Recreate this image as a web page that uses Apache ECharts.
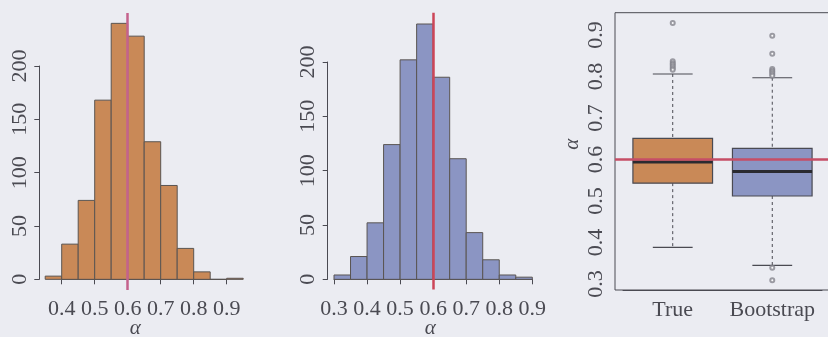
<!DOCTYPE html>
<html>
<head>
<meta charset="utf-8">
<script src="https://cdn.jsdelivr.net/npm/echarts@6/dist/echarts.min.js"></script>
<style>
  html, body { margin: 0; padding: 0; background: #ebecf2; }
  #chart { width: 828px; height: 337px; }
</style>
</head>
<body>
<div id="chart"></div>
<script>
// Histogram of alpha-hat from 1000 simulated data sets (true population)
const trueBinStarts = [0.35, 0.40, 0.45, 0.50, 0.55, 0.60, 0.65, 0.70, 0.75, 0.80, 0.85, 0.90];
const trueCounts    = [3, 33, 74, 168, 240, 228, 129, 88, 29, 7, 0, 1];

// Histogram of alpha-hat from 1000 bootstrap samples
const bootBinStarts = [0.30, 0.35, 0.40, 0.45, 0.50, 0.55, 0.60, 0.65, 0.70, 0.75, 0.80, 0.85];
const bootCounts    = [4, 21, 52, 124, 202, 235, 186, 111, 43, 18, 4, 2];
const binWidth = 0.05;

// Boxplot summaries: [lower whisker, Q1, median, Q3, upper whisker]
const boxCategories = ['True', 'Bootstrap'];
const trueBox = [0.388, 0.543, 0.594, 0.651, 0.806];
const bootBox = [0.345, 0.512, 0.571, 0.627, 0.797];
const trueOutliers = [0.929, 0.837, 0.832, 0.828, 0.824, 0.820, 0.816];
const bootOutliers = [0.898, 0.855, 0.818, 0.814, 0.810, 0.806, 0.802, 0.339, 0.309];

const alphaTrue = 0.6;

const countTicks = { min: 0, max: 200, interval: 50 };
const trueXTicks = { min: 0.4, max: 0.9, interval: 0.1 };
const bootXTicks = { min: 0.3, max: 0.9, interval: 0.1 };
const boxYTicks  = { min: 0.3, max: 0.9, interval: 0.1 };

const orange = '#c98957';
const blue = '#8b95c3';
const ink = '#4a4a52';
const edge = '#5a5552';
const FONT = 'Liberation Serif';

function hist(starts, counts) {
  return starts.map((s, i) => [s, +(s + binWidth).toFixed(2), counts[i]]);
}

function histRender(fill) {
  return function (params, api) {
    const a = api.coord([api.value(0), 0]);
    const b = api.coord([api.value(1), api.value(2)]);
    return {
      type: 'rect',
      shape: { x: a[0], y: b[1], width: b[0] - a[0], height: a[1] - b[1] },
      style: { fill: fill, stroke: edge, lineWidth: 1 }
    };
  };
}

function boxRender(params, api) {
  const x = api.value(0);
  const lw = api.value(1), q1 = api.value(2), md = api.value(3), q3 = api.value(4), uw = api.value(5);
  const fill = params.dataIndex === 0 ? orange : blue;
  const half = 0.4, cap = 0.2;
  const pLw = api.coord([x, lw]), pUw = api.coord([x, uw]);
  const pQ1 = api.coord([x, q1]), pQ3 = api.coord([x, q3]);
  const bl = api.coord([x - half, q1]), tr = api.coord([x + half, q3]);
  const ml = api.coord([x - half, md]), mr = api.coord([x + half, md]);
  const cl = api.coord([x - cap, uw]), cr = api.coord([x + cap, uw]);
  const dl = api.coord([x - cap, lw]), dr = api.coord([x + cap, lw]);
  const dash = { stroke: ink, lineWidth: 1, lineDash: [3, 3] };
  const solid = { stroke: ink, lineWidth: 1.2 };
  return {
    type: 'group',
    children: [
      { type: 'line', shape: { x1: pUw[0], y1: pUw[1], x2: pQ3[0], y2: pQ3[1] }, style: dash },
      { type: 'line', shape: { x1: pQ1[0], y1: pQ1[1], x2: pLw[0], y2: pLw[1] }, style: dash },
      { type: 'line', shape: { x1: cl[0], y1: cl[1], x2: cr[0], y2: cr[1] }, style: solid },
      { type: 'line', shape: { x1: dl[0], y1: dl[1], x2: dr[0], y2: dr[1] }, style: solid },
      { type: 'rect', shape: { x: bl[0], y: tr[1], width: tr[0] - bl[0], height: bl[1] - tr[1] },
        style: { fill: fill, stroke: ink, lineWidth: 1.2 } },
      { type: 'line', shape: { x1: ml[0], y1: ml[1], x2: mr[0], y2: mr[1] }, style: { stroke: '#2a2a30', lineWidth: 3 } }
    ]
  };
}

const labelStyle = { color: ink, fontFamily: FONT, fontSize: 22 };
const lineStyle = { lineStyle: { color: ink, width: 1 } };
const hidden = { show: false };
const alphaName = { color: ink, fontFamily: FONT, fontSize: 21, fontStyle: 'italic' };

function tickAxisX(gridIndex, ticks, offset, namePad) {
  return {
    type: 'value', gridIndex, min: ticks.min, max: ticks.max, interval: ticks.interval,
    position: 'bottom', offset,
    axisLine: lineStyle, axisTick: { length: 5, lineStyle: { color: ink } },
    axisLabel: Object.assign({ margin: 8, formatter: v => v.toFixed(1), hideOverlap: false }, labelStyle),
    splitLine: hidden,
    name: 'α', nameLocation: 'middle', nameGap: 28, nameMoveOverlap: false,
    nameTextStyle: Object.assign({ padding: namePad }, alphaName)
  };
}
function tickAxisY(gridIndex, ticks, offset, fmt) {
  return {
    type: 'value', gridIndex, min: ticks.min, max: ticks.max, interval: ticks.interval,
    position: 'left', offset,
    axisLine: lineStyle, axisTick: { length: 5, lineStyle: { color: ink } },
    axisLabel: Object.assign({ margin: 8, rotate: 90, formatter: fmt, hideOverlap: false }, labelStyle),
    splitLine: hidden
  };
}
function plainAxis(gridIndex, min, max) {
  return { type: 'value', gridIndex, min, max, show: false, splitLine: hidden };
}
function vLine(color) {
  return {
    silent: true, symbol: 'none', label: hidden,
    lineStyle: { color, width: 2.5, type: 'solid' },
    data: [{ xAxis: alphaTrue }]
  };
}
function grid(left, top, width, height, extra) {
  return Object.assign({ left, top, width, height, containLabel: false, outerBoundsMode: 'none' }, extra || {});
}

const option = {
  backgroundColor: '#ebecf2',
  animation: false,
  grid: [
    // panel 1: data region and tick region
    grid(61.7, 13, 165, 277),
    grid(61.7, 66, 165, 213.3),
    // panel 2
    grid(334, 12.7, 198.3, 276.9),
    grid(334, 62, 198.3, 217.3),
    // panel 3: framed boxplot region and tick region
    grid(615, 12.7, 215, 277.3, { show: true, borderColor: ink, borderWidth: 1 }),
    grid(623, 35, 199, 249)
  ],
  xAxis: [
    plainAxis(0, trueXTicks.min, trueXTicks.max),
    tickAxisX(1, trueXTicks, 10.7, [0, 18, 0, 0]),
    plainAxis(2, bootXTicks.min, bootXTicks.max),
    tickAxisX(3, bootXTicks, 10.7, [0, 6, 0, 0]),
    plainAxis(4, 0.42, 2.58),
    {
      type: 'category', gridIndex: 5, data: boxCategories, position: 'bottom', offset: 6,
      axisLine: lineStyle, axisTick: { alignWithLabel: true, length: 5, lineStyle: { color: ink } },
      axisLabel: Object.assign({ margin: 9, interval: 0, hideOverlap: false }, labelStyle)
    }
  ],
  yAxis: [
    plainAxis(0, -10, 249.7),
    tickAxisY(1, countTicks, 22.4, v => String(v)),
    plainAxis(2, -9.44, 245.4),
    tickAxisY(3, countTicks, 6.3, v => String(v)),
    {
      type: 'value', gridIndex: 4, min: 0.2855, max: 0.9537, splitLine: hidden,
      axisLine: hidden, axisTick: hidden, axisLabel: hidden,
      name: 'α', nameLocation: 'middle', nameGap: 32, nameRotate: 90, nameMoveOverlap: false,
      nameTextStyle: Object.assign({ padding: [0, 0, 0, 14] }, alphaName)
    },
    tickAxisY(5, boxYTicks, 8, v => v.toFixed(1))
  ],
  series: [
    {
      type: 'custom', xAxisIndex: 0, yAxisIndex: 0, clip: false,
      data: hist(trueBinStarts, trueCounts), encode: { x: [0, 1], y: 2 },
      renderItem: histRender(orange),
      markLine: vLine('#c4628c')
    },
    {
      type: 'custom', xAxisIndex: 2, yAxisIndex: 2, clip: false,
      data: hist(bootBinStarts, bootCounts), encode: { x: [0, 1], y: 2 },
      renderItem: histRender(blue),
      markLine: vLine('#cc4658')
    },
    {
      type: 'custom', xAxisIndex: 4, yAxisIndex: 4,
      data: [[1].concat(trueBox), [2].concat(bootBox)], encode: { x: 0, y: [1, 2, 3, 4, 5] },
      renderItem: boxRender, z: 2
    },
    {
      type: 'scatter', xAxisIndex: 4, yAxisIndex: 4, symbol: 'emptyCircle', symbolSize: 4,
      itemStyle: { color: '#85858d', borderColor: '#75757d', borderWidth: 1 },
      data: trueOutliers.map(v => [1, v]).concat(bootOutliers.map(v => [2, v])), z: 3
    },
    {
      type: 'line', xAxisIndex: 4, yAxisIndex: 4, data: [], z: 4,
      markLine: {
        silent: true, symbol: 'none', label: hidden,
        lineStyle: { color: '#c64e66', width: 2.5, type: 'solid' },
        data: [{ yAxis: alphaTrue }]
      }
    }
  ]
};

echarts.init(document.getElementById('chart'), null, { renderer: 'canvas' }).setOption(option);
</script>
</body>
</html>
